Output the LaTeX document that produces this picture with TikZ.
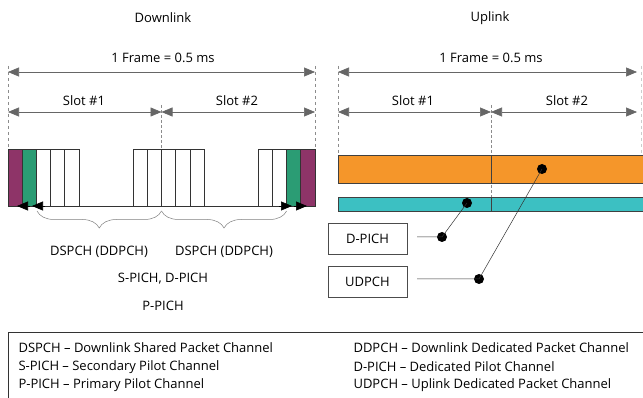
\documentclass[tikz,border=0pt]{standalone}
\usepackage{fontspec}
\setmainfont{Open Sans}
\usetikzlibrary{arrows.meta,decorations.pathreplacing}
\definecolor{cpurple}{HTML}{8E3468}
\definecolor{cgreen}{HTML}{2B9C74}
\definecolor{corange}{HTML}{F5962A}
\definecolor{ccyan}{HTML}{3CC0C2}
\begin{document}
\begin{tikzpicture}[x=1pt,y=-1pt,font=\fontsize{13}{15}\selectfont,
  dim/.style={draw=black!60, line width=0.6pt, {Triangle[length=11pt,width=9pt]}-{Triangle[length=11pt,width=9pt]}},
  tipline/.style={draw=black, line width=0.6pt, -{Triangle[length=11pt,width=9pt]}},
  guide/.style={draw=black!45, dashed, line width=0.5pt},
  midguide/.style={draw=black!45, densely dashed, line width=0.5pt},
  slotbox/.style={draw=black!80, line width=0.8pt},
  bar/.style={draw=black!75, line width=0.8pt},
  dot/.style={circle, fill=black, inner sep=0pt, minimum size=10pt},
  lbl/.style={draw=black!70, line width=0.6pt, minimum width=79pt, minimum height=31pt, inner sep=0pt},
  thin/.style={draw=black!80, line width=0.5pt},
  bracestyle/.style={draw=black!50, line width=0.5pt, decorate, decoration={brace, mirror, amplitude=17pt}}]
\clip (0,0) rectangle (643,398);
\fill[white] (0,0) rectangle (643,398);

% headers
\node (hdl) at (163,18) {Downlink};
\node (hul) at (490,18) {Uplink};

% ---------------- Downlink ----------------
\coordinate (dl0) at (8,72);
\coordinate (dl1) at (315,72);
\coordinate (ds0) at (8,112);
\coordinate (dsm) at (161.5,112);
\coordinate (ds1) at (315,112);
\draw[guide] (8,66) -- (8,149);
\draw[guide] (315,66) -- (315,149);
\draw[midguide] (161.5,105) -- (161.5,149);
\draw[dim] (dl0) -- (dl1);
\draw[dim] (ds0) -- (dsm);
\draw[dim] (dsm) -- (ds1);
\node (dfr) at (163,58) {1 Frame = 0.5 ms};
\node (ds1l) at (84,101) {Slot \#1};
\node (ds2l) at (237,101) {Slot \#2};

% baseline
\draw[slotbox] (8,206) -- (315,206);
% boxes
\foreach \x/\c in {8/cpurple,22.2/cgreen,36.4/white,50.6/white,64.8/white,
                   133.1/white,147.3/white,161.5/white,175.7/white,189.9/white,
                   258.2/white,272.4/white,286.6/cgreen,300.8/cpurple}
  \draw[slotbox, fill=\c] (\x,149) rectangle ++(14.2,57);

% arrow tips at the pilot channels
\draw[tipline] (30,206) -- (17,206);
\draw[tipline] (45,206) -- (32,206);
\draw[tipline] (279,206) -- (292,206);
\draw[tipline] (294,206) -- (307,206);

% braces
\draw[bracestyle] (37,211) -- (161.5,211);
\draw[bracestyle] (161.5,211) -- (286.6,211);

\node (dsp1) at (99,252) {DSPCH (DDPCH)};
\node (dsp2) at (224,252) {DSPCH (DDPCH)};
\node (spich) at (163,279) {S-PICH, D-PICH};
\node (ppich) at (163,306) {P-PICH};

% ---------------- Uplink ----------------
\coordinate (ul0) at (338,72);
\coordinate (ul1) at (637,72);
\coordinate (us0) at (338,112);
\coordinate (usm) at (491,112);
\coordinate (us1) at (637,112);
\draw[guide] (338,66) -- (338,155);
\draw[draw=black!20, dashed, line width=0.5pt] (641,66) -- (641,155);
\draw[midguide] (491,105) -- (491,197);
\draw[dim] (ul0) -- (ul1);
\draw[dim] (us0) -- (usm);
\draw[dim] (usm) -- (us1);
\node (ufr) at (491,58) {1 Frame = 0.5 ms};
\node (us1l) at (413,101) {Slot \#1};
\node (us2l) at (567,101) {Slot \#2};

\draw[bar, fill=corange] (338,155) rectangle (660,183);
\draw[bar] (491,155) -- (491,183);
\draw[bar, fill=ccyan] (338,197) rectangle (660,211);
\draw[bar] (491,197) -- (491,211);

\node[dot] (dorange) at (542,169) {};
\node[dot] (dcyan) at (467,203) {};
\node[dot] (ddp) at (442,237) {};
\node[dot] (dud) at (479,279) {};

\node[lbl] (bdpich) at (367.5,238.5) {D-PICH};
\node[lbl] (budpch) at (367.5,281.5) {UDPCH};
\coordinate (cdp) at (417,237);
\coordinate (cud) at (417,279);
\draw[thin] (cdp) -- (ddp.center) -- (dcyan.center);
\draw[thin] (cud) -- (dud.center) -- (dorange.center);

% ---------------- Legend ----------------
\draw[draw=black!80, line width=0.8pt] (8,332) rectangle (660,410);
\node[anchor=west] (lg1) at (15,348) {DSPCH – Downlink Shared Packet Channel};
\node[anchor=west] (lg2) at (15,367) {S-PICH – Secondary Pilot Channel};
\node[anchor=west] (lg3) at (15,385) {P-PICH – Primary Pilot Channel};
\node[anchor=west] (lg4) at (350,348) {DDPCH – Downlink Dedicated Packet Channel};
\node[anchor=west] (lg5) at (350,367) {D-PICH – Dedicated Pilot Channel};
\node[anchor=west] (lg6) at (350,385) {UDPCH – Uplink Dedicated Packet Channel};
\end{tikzpicture}
\end{document}
